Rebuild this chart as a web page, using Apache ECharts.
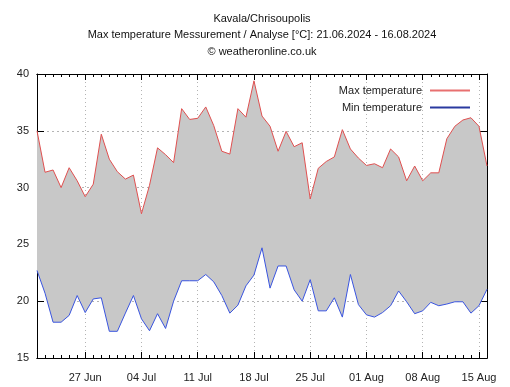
<!DOCTYPE html>
<html><head><meta charset="utf-8">
<script src="https://cdn.jsdelivr.net/npm/echarts@6/dist/echarts.min.js"></script>
<style>html,body{margin:0;padding:0;background:#fff}#c{width:510px;height:387px}</style>
</head><body><div id="c"></div>
<script>
var startDate = [2024, 5, 21]; // 21 Jun 2024
var dayCount = 57;
var months = ['Jan','Feb','Mar','Apr','May','Jun','Jul','Aug','Sep','Oct','Nov','Dec'];
var maxTemp = [35.0,31.35,31.55,30.0,31.75,30.6,29.2,30.3,34.7,32.5,31.4,30.75,31.1,27.7,30.2,33.5,32.9,32.2,36.95,36.0,36.1,37.1,35.45,33.2,32.95,36.95,36.2,39.4,36.3,35.4,33.2,34.95,33.6,33.95,29.0,31.7,32.3,32.7,35.1,33.4,32.6,31.95,32.1,31.75,33.4,32.7,30.6,31.9,30.6,31.3,31.3,34.3,35.4,35.95,36.15,35.4,31.9];
var minTemp = [22.7,20.7,18.15,18.15,18.75,20.5,19.0,20.2,20.3,17.35,17.35,18.95,20.5,18.45,17.4,18.9,17.6,20.0,21.8,21.8,21.8,22.35,21.7,20.5,18.95,19.65,21.35,22.3,24.7,21.15,23.1,23.1,21.0,20.0,21.9,19.15,19.15,20.3,18.6,22.35,19.7,18.8,18.6,19.0,19.6,20.9,19.95,18.9,19.15,19.9,19.6,19.75,19.95,19.95,18.95,19.6,21.05];
var titleLines = ['Kavala/Chrisoupolis','Max temperature Messurement / Analyse [°C]: 21.06.2024 - 16.08.2024','© weatheronline.co.uk'];
var yTicks = [15,20,25,30,35,40];

var dates = [];
for (var i = 0; i < dayCount; i++) {
  var d = new Date(startDate[0], startDate[1], startDate[2] + i);
  dates.push((d.getDate() < 10 ? '0' : '') + d.getDate() + ' ' + months[d.getMonth()]);
}
var band = maxTemp.map(function(v, i){ return +(v - minTemp[i]).toFixed(2); });
function isMajor(idx){ return (idx - 6) % 7 === 0 && idx >= 6; }

var font = 'Liberation Sans, Arial, sans-serif';
var chart = echarts.init(document.getElementById('c'), null, {renderer:'canvas'});
var minorAxis = function(pos){
  return {type:'category', data:dates, boundaryGap:false, position:pos, gridIndex:0,
    axisLine:{show:true, lineStyle:{color:'#000', width:1}},
    axisTick:{show:true, inside:true, length:3, interval:0, lineStyle:{color:'#000'}},
    axisLabel:{show:false}, splitLine:{show:false}};
};
var majorAxis = function(pos, labels){
  return {type:'category', data:dates, boundaryGap:false, position:pos, gridIndex:0,
    axisLine:{show:true, lineStyle:{color:'#000', width:1}},
    axisTick:{show:true, inside:true, length:6, interval:function(idx){return isMajor(idx);}, lineStyle:{color:'#000'}},
    axisLabel:{show:labels, interval:function(idx){return isMajor(idx);}, color:'#222', fontSize:11, fontFamily:font, margin:14},
    splitLine:{show:labels, interval:function(idx){return isMajor(idx);}, lineStyle:{color:'#b4b4b4', type:[1,3], width:1}}};
};
chart.setOption({
  animation:false,
  backgroundColor:'#fff',
  title: titleLines.map(function(t, i){
    return {text:t, left:257, textAlign:'center', top:8 + i*16.5,
      textStyle:{fontSize:11, fontWeight:'normal', color:'#111', fontFamily:font}};
  }),
  grid:{left:37, right:23, top:74, bottom:29},
  legend:{data:['Max temperature','Min temperature'], orient:'vertical', right:35, top:80,
    align:'right', itemWidth:40, itemHeight:2, itemGap:6, icon:'rect',
    textStyle:{fontSize:11, color:'#222', fontFamily:font, padding:[0,3,0,0]}},
  xAxis:[majorAxis('bottom', true), minorAxis('bottom'), majorAxis('top', false), minorAxis('top')],
  yAxis:[
    {type:'value', min:yTicks[0], max:yTicks[yTicks.length-1], interval:5, position:'left',
      axisLine:{show:true, lineStyle:{color:'#000'}},
      axisTick:{show:true, inside:true, length:7, lineStyle:{color:'#000'}},
      axisLabel:{color:'#222', fontSize:11, fontFamily:font, margin:8},
      splitLine:{show:true, lineStyle:{color:'#b4b4b4', type:[2,3], width:1}}},
    {type:'value', min:yTicks[0], max:yTicks[yTicks.length-1], interval:5, position:'right',
      axisLine:{show:true, lineStyle:{color:'#000'}},
      axisTick:{show:true, inside:true, length:7, lineStyle:{color:'#000'}},
      axisLabel:{show:false}, splitLine:{show:false}}
  ],
  series:[
    {name:'base', type:'line', data:minTemp, stack:'band', symbol:'none', lineStyle:{opacity:0}, silent:true, z:1},
    {name:'band', type:'line', data:band, stack:'band', symbol:'none', lineStyle:{opacity:0},
      areaStyle:{color:'#c8c8c8', opacity:1}, silent:true, z:1},
    {name:'Max temperature', type:'line', data:maxTemp, symbol:'none', color:'#e87070',
      lineStyle:{color:'#e05050', width:1}, z:3},
    {name:'Min temperature', type:'line', data:minTemp, symbol:'none', color:'#2a3aa0',
      lineStyle:{color:'#3a55e0', width:1}, z:3}
  ]
});
</script></body></html>
